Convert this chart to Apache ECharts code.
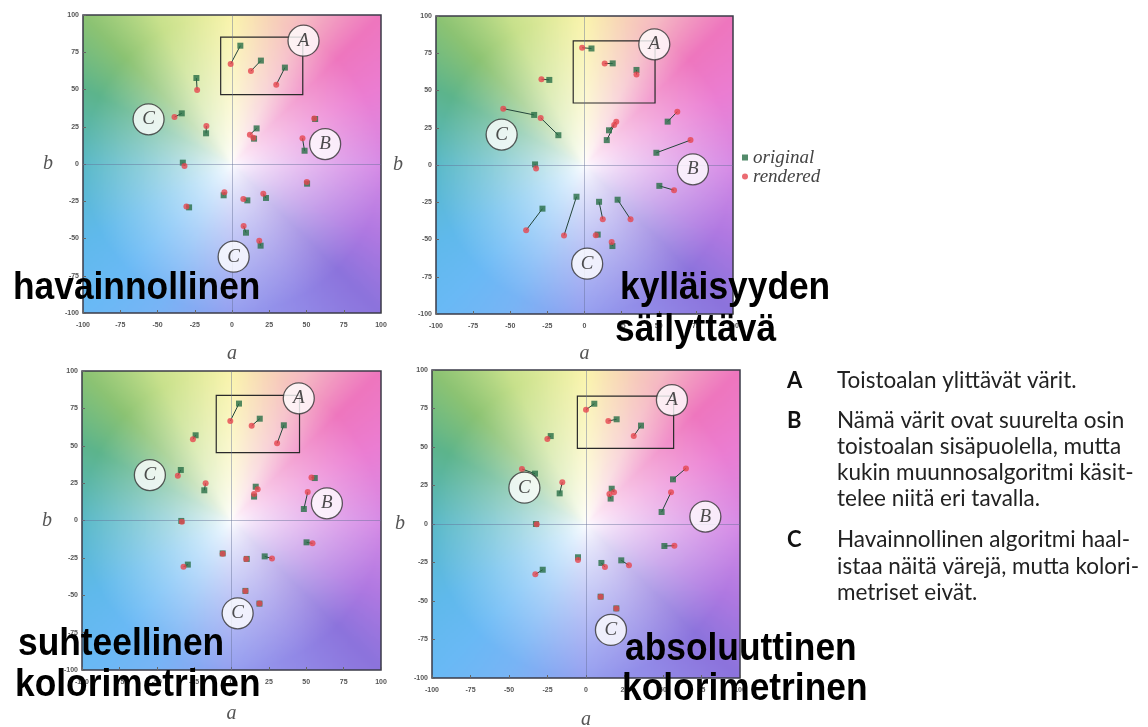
<!DOCTYPE html>
<html><head><meta charset="utf-8">
<script src="https://cdn.jsdelivr.net/npm/echarts@6/dist/echarts.min.js"></script>
<style>html,body{margin:0;padding:0;background:#fff;}#c{width:1148px;height:727px;}</style>
</head><body><div id="c"></div>
<script>
// ---------- DATA ----------
const axisTicks = [-100, -75, -50, -25, 0, 25, 50, 75, 100];
const chartTitles = [['havainnollinen'], ['kylläisyyden', 'säilyttävä'], ['suhteellinen', 'kolorimetrinen'], ['absoluuttinen', 'kolorimetrinen']];
const seriesNames = ['original', 'rendered'];

// havainnollinen (perceptual)
const origHav = [[5.6,79.4],[19.4,69.4],[35.5,64.7],[-23.9,57.7],[-33.7,34],[-17.4,20.6],[16.5,23.9],[14.8,17],[55.8,30.2],[48.7,8.9],[50.4,-13.2],[-33,0.9],[-5.6,-21],[10.3,-24.4],[22.8,-22.8],[-28.8,-29.1],[9.4,-46.1],[19.2,-54.8]];
const rendHav = [[-0.9,67.1],[12.7,62.4],[29.7,53.2],[-23.4,49.7],[-38.6,31.5],[-17.2,25.5],[12,19.7],[14.3,17.6],[55.2,30.5],[47.3,17.2],[50.2,-12.1],[-31.9,-1.3],[-5.1,-19],[7.6,-23.5],[21,-19.9],[-30.6,-28.6],[7.8,-41.6],[18.3,-51.5]];
// kylläisyyden säilyttävä (saturation)
const origSat = [[4.7,78.2],[19,68.2],[35,63.8],[-23.7,57.1],[-33.9,33.6],[-17.6,20],[16.5,23.3],[15,16.7],[56,29.1],[48.4,8.2],[50.4,-14],[-33.3,0.4],[-5.4,-21.3],[9.8,-24.7],[22.3,-23.3],[-28.3,-29.3],[8.9,-46.7],[18.8,-54.4]];
const rendSat = [[-1.6,78.7],[13.6,68.2],[35,60.7],[-29,57.6],[-54.7,37.8],[-29.5,31.6],[21.4,29.1],[20,26.9],[62.5,35.8],[71.4,16.7],[60.3,-16.9],[-32.6,-2.4],[-13.8,-47.3],[12.3,-36.4],[31,-36.4],[-39.3,-43.8],[7.6,-47.1],[18.3,-51.6]];
// suhteellinen kolorimetrinen (relative)
const origRel = [[5,78.2],[18.9,68.1],[35,63.7],[-24,57],[-33.9,33.8],[-18.2,20.2],[16.2,22.6],[15.1,16],[55.7,28.4],[48.4,7.7],[50.2,-14.6],[-33.6,-0.3],[-5.9,-22],[10.2,-25.7],[22.2,-24],[-29.2,-29.5],[9.3,-47.1],[18.7,-55.6]];
const rendRel = [[-0.8,66.6],[13.5,63.4],[30.5,51.6],[-25.8,54.3],[-35.9,30],[-17.3,24.9],[17.5,20.9],[15.1,17.7],[53.5,28.7],[51,19],[54.2,-15.3],[-33.2,-0.8],[-5.9,-22.3],[9.8,-25.7],[27.1,-25.5],[-32.1,-30.9],[9.3,-47.1],[18.7,-55.6]];
// absoluuttinen kolorimetrinen (absolute)
const origAbs = [[5.4,78.1],[19.9,68],[35.7,63.9],[-22.9,57.1],[-33.1,32.7],[-17.1,19.9],[16.7,22.9],[16,16.5],[56.5,29],[49.1,7.8],[50.9,-14.3],[-32.5,0],[-5.2,-21.6],[10,-25.3],[22.9,-23.6],[-28.1,-29.7],[9.5,-47.2],[19.7,-54.8]];
const rendAbs = [[0,74.2],[14.5,66.9],[31,57.1],[-25.1,55.2],[-41.6,35.7],[-15.4,27.1],[18.2,20.6],[15.2,19.5],[64.9,36.1],[55.2,20.6],[57.4,-14.1],[-32,-0.2],[-5.2,-23.4],[12.3,-27.9],[27.9,-26.8],[-32.9,-32.7],[9.5,-47.2],[19.7,-54.8]];

// circled region labels [letter, a, b]
const labelsHav = [['A',48,82.8],['B',62.5,13.4],['C',-56,30],['C',1.1,-62.2]];
const labelsSat = [['A',47,81],['B',73,-2.9],['C',-55.8,20.4],['C',1.8,-66.2]];
const labelsRel = [['A',45,81.7],['B',63.8,11.5],['C',-54.6,30.4],['C',4.1,-62.1]];
const labelsAbs = [['A',55.8,80.5],['B',77.5,4.8],['C',-40,23.6],['C',16.2,-68.8]];
// out-of-gamut box [[aMin,aMax],[bMin,bMax]]
const boxHav = [[-7.6,47.5],[46.5,85.2]];
const boxSat = [[-7.6,47.5],[41.6,83.3]];
const boxRel = [[-10.2,45.5],[45.4,83.7]];
const boxAbs = [[-5.6,56.9],[49.1,83.1]];

const notes = [
  ['A', ['Toistoalan ylittävät värit.']],
  ['B', ['Nämä värit ovat suurelta osin', 'toistoalan sisäpuolella, mutta', 'kukin muunnosalgoritmi käsit-', 'telee niitä eri tavalla.']],
  ['C', ['Havainnollinen algoritmi haal-', 'istaa näitä värejä, mutta kolori-', 'metriset eivät.']]
];

// ---------- LAYOUT / STYLE ----------
const grids = [
  {left: 83, top: 15, width: 298, height: 298},
  {left: 436, top: 16, width: 297, height: 298},
  {left: 82, top: 371, width: 299, height: 299},
  {left: 432, top: 370, width: 308, height: 308}
];
const nameGaps = [[31, 30], [30, 33], [34, 30], [32, 27]];
const charts = [
  [origHav, rendHav, labelsHav, boxHav],
  [origSat, rendSat, labelsSat, boxSat],
  [origRel, rendRel, labelsRel, boxRel],
  [origAbs, rendAbs, labelsAbs, boxAbs]
];
const GREEN = '#286e46', RED = '#e6464f', LINK = '#24453a';

// background (a,b) colour field
const HUES = [[0,215,140,230],[27,235,125,210],[45,238,118,190],[63,245,185,195],[90,250,244,172],[117,200,225,140],[135,140,195,115],[153,92,180,140],[180,90,185,200],[207,95,185,235],[225,105,185,245],[243,120,180,245],[270,150,160,240],[297,145,135,230],[315,140,115,220],[333,175,120,225],[360,215,140,230]];
function bgColor(a, b) {
  let th = Math.atan2(b, a) * 180 / Math.PI; if (th < 0) th += 360;
  let k = 0; while (HUES[k + 1][0] < th) k++;
  const h0 = HUES[k], h1 = HUES[k + 1], t = (th - h0[0]) / (h1[0] - h0[0]);
  const s = Math.pow(Math.min(1, Math.hypot(a, b) / 100), 0.75);
  return [1, 2, 3].map(i => 255 + ((h0[i] + (h1[i] - h0[i]) * t) - 255) * s);
}
function makeBg() {
  const N = 160, c = document.createElement('canvas'); c.width = N; c.height = N;
  const ctx = c.getContext('2d'), img = ctx.createImageData(N, N);
  for (let j = 0; j < N; j++) for (let i = 0; i < N; i++) {
    const a = -100 + 200 * (i + 0.5) / N, b = 100 - 200 * (j + 0.5) / N;
    const col = bgColor(a, b), p = (j * N + i) * 4;
    img.data[p] = col[0]; img.data[p + 1] = col[1]; img.data[p + 2] = col[2]; img.data[p + 3] = 255;
  }
  ctx.putImageData(img, 0, 0); return c;
}
const bg = makeBg();

const xAxes = [], yAxes = [], series = [], graphics = [];
const serif = 'Liberation Serif';
charts.forEach(([orig, rend, labels, box], k) => {
  const g = grids[k];
  const common = {
    gridIndex: k, type: 'value', min: axisTicks[0], max: axisTicks[axisTicks.length - 1], interval: 25,
    axisLine: {show: false, onZero: false}, splitLine: {show: false},
    axisTick: {show: true, inside: true, length: 3, lineStyle: {color: '#666'}},
    nameTextStyle: {fontFamily: serif, fontStyle: 'italic', fontSize: 20, color: '#555'}
  };
  xAxes.push(Object.assign({}, common, {position: 'bottom', name: 'a', nameLocation: 'middle', nameGap: nameGaps[k][0],
    axisLabel: {fontSize: 7, color: '#555', fontWeight: 'bold', margin: 9}}));
  yAxes.push(Object.assign({}, common, {position: 'left', name: 'b', nameLocation: 'middle', nameRotate: 0, nameGap: nameGaps[k][1],
    axisLabel: {fontSize: 7, color: '#555', fontWeight: 'bold', margin: 4}}));
  graphics.push({type: 'image', z: -10, x: g.left, y: g.top, style: {image: bg, width: g.width, height: g.height}});
  series.push({
    type: 'lines', coordinateSystem: 'cartesian2d', xAxisIndex: k, yAxisIndex: k, z: 3, silent: true,
    lineStyle: {color: LINK, width: 1, opacity: 1},
    data: orig.map((p, i) => ({coords: [p, rend[i]]}))
  });
  series.push({
    name: 'original', type: 'scatter', xAxisIndex: k, yAxisIndex: k, z: 4, symbol: 'rect', symbolSize: 6,
    itemStyle: {color: GREEN}, data: orig,
    markLine: {silent: true, symbol: 'none', label: {show: false}, lineStyle: {color: 'rgba(100,110,150,0.45)', width: 1, type: 'solid'},
      data: [{xAxis: 0}, {yAxis: 0}]},
    markArea: {silent: true, itemStyle: {color: 'rgba(0,0,0,0)', borderColor: '#2a2a2a', borderWidth: 1.2},
      data: [[{coord: [box[0][0], box[1][1]]}, {coord: [box[0][1], box[1][0]]}]]}
  });
  series.push({
    name: 'rendered', type: 'scatter', xAxisIndex: k, yAxisIndex: k, z: 5, symbol: 'circle', symbolSize: 6,
    itemStyle: {color: RED}, data: rend
  });
  series.push({
    name: 'labels', type: 'scatter', xAxisIndex: k, yAxisIndex: k, z: 7, symbol: 'circle', symbolSize: 31, silent: true,
    itemStyle: {color: '#ffffff', borderColor: '#333', borderWidth: 1.3},
    label: {show: true, position: 'inside', formatter: p => p.data[2], fontFamily: serif, fontStyle: 'italic', fontSize: 19, color: '#222'},
    data: labels.map(l => [l[1], l[2], l[0]])
  });
});

// big method titles
const titlePos = [[[13, 289]], [[620, 289], [615, 331]], [[18, 645], [15, 686]], [[625, 650], [622, 690]]];
chartTitles.forEach((lines, k) => lines.forEach((t, j) => {
  graphics.push({type: 'text', z: 50, x: titlePos[k][j][0], y: titlePos[k][j][1], scaleX: 0.93,
    style: {text: t, fontFamily: 'Liberation Sans', fontWeight: 'bold', fontSize: 38, fill: '#000', textVerticalAlign: 'middle'}});
}));

// notes on the right
const noteY = [[381], [421, 447, 473, 499], [540, 567, 593]];
notes.forEach(([letter, lines], k) => {
  graphics.push({type: 'text', z: 50, x: 787, y: noteY[k][0],
    style: {text: letter, fontFamily: 'Lato', fontWeight: 'bold', fontSize: 22, fill: '#111', textVerticalAlign: 'middle'}});
  lines.forEach((t, j) => graphics.push({type: 'text', z: 50, x: 837, y: noteY[k][j],
    style: {text: t, fontFamily: 'Lato', fontSize: 22.5, fill: '#222', textVerticalAlign: 'middle'}}));
});

const chart = echarts.init(document.getElementById('c'), null, {renderer: 'canvas'});
chart.setOption({
  animation: false,
  backgroundColor: '#ffffff',
  grid: grids.map(g => Object.assign({show: true, borderColor: '#3b3b48', borderWidth: 1.5, backgroundColor: 'transparent',
    containLabel: false, outerBoundsMode: 'none'}, g)),
  xAxis: xAxes, yAxis: yAxes,
  legend: {data: seriesNames, orient: 'vertical', left: 737, top: 143, itemWidth: 6, itemHeight: 6, itemGap: 0,
    textStyle: {fontFamily: serif, fontStyle: 'italic', fontSize: 19, color: '#444', lineHeight: 18}},
  series: series,
  graphic: graphics
});
</script></body></html>
